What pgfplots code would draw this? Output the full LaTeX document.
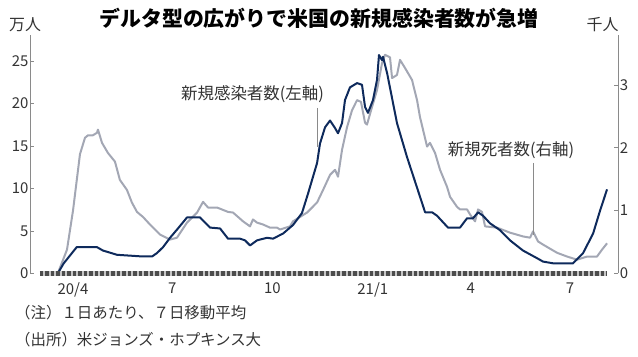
\documentclass[border=0pt]{standalone}
\usepackage{pgfplots}
\pgfplotsset{compat=1.18}
\usepackage{fontspec}
\setmainfont{Noto Sans CJK JP}
\definecolor{navy}{HTML}{0E2A5C}
\definecolor{lgray}{HTML}{A3A7B4}
\definecolor{axgray}{HTML}{8A8A8A}
\definecolor{txt}{HTML}{333333}
\begin{document}
\begin{tikzpicture}
\path[use as bounding box] (0bp,0bp) rectangle (638bp,357bp);
% deaths, right axis (thousand people)
\begin{axis}[at={(73bp,83.5bp)}, anchor=origin, scale only axis,
  width=588bp, height=238.5bp, clip=false,
  xmin=-39.4, xmax=500, ymin=0, ymax=3.796,
  axis x line=none, axis y line*=right,
  y axis line style={draw=axgray, line width=0.8bp},
  ytick={0,1,2,3}, tick align=inside, major tick length=4bp,
  ytick style={draw=axgray, line width=0.8bp},
  yticklabel style={font=\fontsize{15}{15}\selectfont, text=txt, inner sep=1.5bp},
  /pgf/number format/assume math mode=true]
\addplot[lgray, line width=2bp, line join=round] coordinates {
(-14,0) (-5.5,0.38) (0,1.0) (6.4,1.9) (11,2.16) (13.8,2.2) (18.3,2.2) (22,2.24) (22.9,2.29)
(26.6,2.08) (32,1.92) (38.5,1.78) (43,1.49) (49.5,1.33) (54,1.13) (58.7,0.98) (64.2,0.90)
(70.6,0.78) (79.8,0.62) (89,0.54) (95.4,0.57) (104.6,0.81) (113.8,0.97) (119.3,1.14)
(123.9,1.05) (132.1,1.05) (142.2,0.98) (146.8,0.97) (156,0.83) (162.4,0.75) (165.1,0.86)
(168.8,0.81) (174.3,0.78) (180.7,0.73) (187.2,0.73) (189.9,0.70) (199,0.75) (201.8,0.83)
(214.7,0.97) (223.9,1.13) (229.4,1.33) (235.8,1.57) (240.4,1.65) (243.1,1.54) (246.8,1.97)
(251.4,2.33) (256,2.6) (260.6,2.76) (264.2,2.73) (267.9,2.4) (269.7,2.37) (274.3,2.65)
(278.9,2.92) (283.5,3.35) (286.2,3.48) (290.8,3.44) (292.7,3.11) (297.2,3.16) (300,3.40)
(304.6,3.27) (311,3.08) (315.6,2.76) (318.3,2.49) (324.8,2.02) (327.5,2.08) (332.1,1.92)
(336.7,1.65) (343.1,1.38) (345.9,1.22) (352.3,1.06) (355,1.02) (361.5,1.02) (364.2,0.94)
(368.8,0.83) (371.6,1.02) (375.2,0.98) (378,0.75) (389,0.73) (400.9,0.65) (412.8,0.59)
(419.3,0.57) (422,0.67) (426.6,0.51) (431.2,0.46) (444,0.33) (453.2,0.27) (462.4,0.22)
(471.6,0.27) (480.7,0.27) (485.3,0.38) (489.9,0.48)
};
\draw[axgray, line width=0.6bp] (axis cs:422,1.76) -- (axis cs:422,0.61);
\node[text=txt, font=\fontsize{16.5}{16.5}\selectfont] at (axis cs:401.8,1.97) {新規死者数(右軸)};
\end{axis}
% cases, left axis (ten thousand people)
\begin{axis}[at={(73bp,83.5bp)}, anchor=origin, scale only axis,
  width=588bp, height=238.5bp, clip=false,
  xmin=-39.4, xmax=500, ymin=0, ymax=28.06,
  axis y line*=left, axis x line*=bottom,
  x axis line style={draw=none},
  y axis line style={draw=axgray, line width=0.8bp},
  ytick={0,5,10,15,20,25}, tick align=inside, major tick length=4bp,
  ytick style={draw=axgray, line width=0.8bp},
  xtick={0,91,183,275,365,456},
  xticklabels={20/4,7,10,21/1,4,7},
  xtick style={draw=none},
  xticklabel style={font=\fontsize{15}{15}\selectfont, text=txt, inner sep=0pt, yshift=-9bp},
  yticklabel style={font=\fontsize{15}{15}\selectfont, text=txt, inner sep=1.5bp},
  /pgf/number format/assume math mode=true]
\addplot[navy, line width=2bp, line join=round] coordinates {
(-14,0) (-8.5,1.2) (3.4,3.1) (6.4,3.1) (22,3.1) (27.5,2.7) (40.4,2.2) (52.3,2.1) (64.2,2.0)
(72.5,2.0) (77,2.4) (82.6,3.1) (89,4.2) (96.3,5.3) (104.6,6.6) (116.5,6.6) (125.7,5.4)
(134.9,5.3) (142.2,4.1) (153.2,4.1) (157.8,3.9) (162.4,3.3) (168.8,3.9) (178,4.2) (183.5,4.1)
(192.7,4.7) (201.8,5.7) (210,7.1) (215.6,9.4) (223.9,13.0) (226.6,15.3) (231.2,17.2)
(235.8,18.0) (240.4,17.1) (243.1,16.5) (246.8,17.7) (249.5,20.4) (254.1,21.9) (260.6,22.4)
(265.1,22.2) (267.9,19.6) (270.6,18.9) (275.2,20.4) (278.9,22.8) (280.7,25.7) (283.5,25.1)
(284.4,25.5) (288.1,23.6) (297.2,17.7) (306.4,13.7) (315.6,10.1) (323,7.2) (329.4,7.2)
(333.9,6.8) (344,5.4) (355,5.4) (361.5,6.5) (367,6.5) (371.6,7.2) (376.1,6.8) (382.6,5.9)
(391.7,5.1) (400.9,3.9) (412.8,2.7) (425.7,1.8) (431.2,1.4) (440.4,1.2) (458.7,1.2)
(467.9,2.4) (477.1,4.7) (483.5,7.4) (489.9,9.9)
};
\addplot[gray!45, line width=4.5bp] coordinates {(-30.3,0) (489.9,0)};
\addplot[black!70, line width=4.5bp, dash pattern=on 3.5bp off 2bp] coordinates {(-30.3,0) (489.9,0)};
\draw[axgray, line width=0.6bp] (axis cs:223.9,19.5) -- (axis cs:223.9,14.9);
\node[text=txt, font=\fontsize{16.5}{16.5}\selectfont] at (axis cs:164.7,21.1) {新規感染者数(左軸)};
\end{axis}
\node[font=\fontsize{21}{21}\selectfont\bfseries] at (319bp,339bp) {デルタ型の広がりで米国の新規感染者数が急増};
\node[text=txt, font=\fontsize{16}{16}\selectfont] at (25bp,332bp) {万人};
\node[text=txt, font=\fontsize{16}{16}\selectfont] at (602.5bp,332bp) {千人};
\node[text=txt, font=\fontsize{15.5}{15.5}\selectfont, anchor=west, inner sep=0pt] at (15bp,44bp) {（注）１日あたり、７日移動平均};
\node[text=txt, font=\fontsize{15.5}{15.5}\selectfont, anchor=west, inner sep=0pt] at (15bp,17bp) {（出所）米ジョンズ・ホプキンス大};
\end{tikzpicture}
\end{document}
